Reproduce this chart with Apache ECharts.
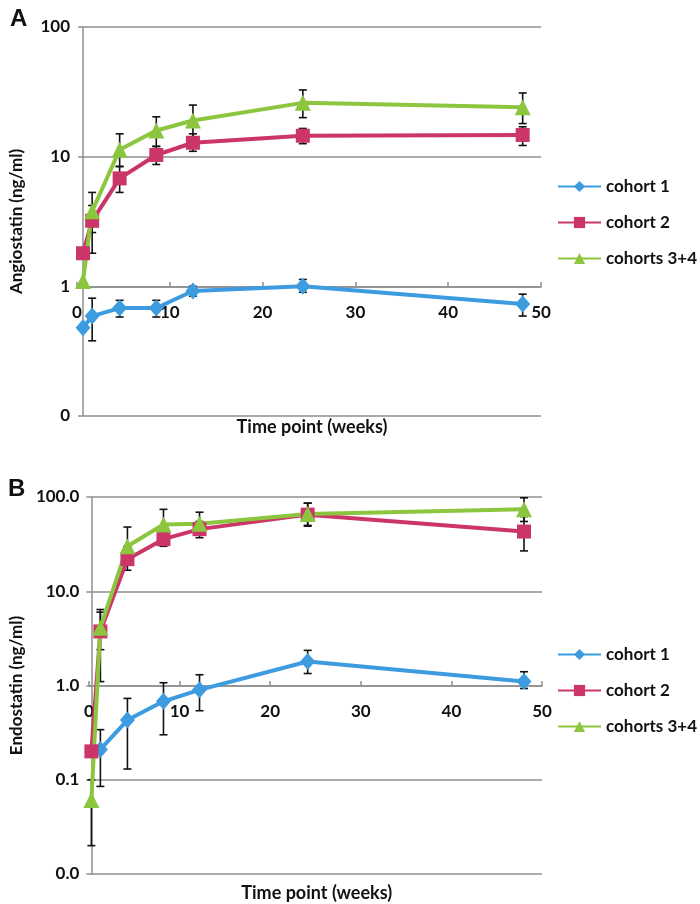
<!DOCTYPE html>
<html><head><meta charset="utf-8">
<script src="https://cdn.jsdelivr.net/npm/echarts@6/dist/echarts.min.js"></script>
<style>html,body{margin:0;padding:0;background:#fff}#c{width:700px;height:904px}</style>
</head><body><div id="c"></div>
<script>
const weeks = [0, 1, 4, 8, 12, 24, 48];
const seriesNames = ['cohort 1', 'cohort 2', 'cohorts 3+4'];
const xTicks = [0, 10, 20, 30, 40, 50];

// Panel A: Angiostatin (ng/ml)
const angC1   = [0.48, 0.59, 0.68, 0.68, 0.92, 1.0, 0.73];
const angC1Lo = [null, 0.38, 0.58, 0.58, 0.84, 0.9, 0.59];
const angC1Hi = [null, 0.81, 0.78, 0.78, 1.0, 1.13, 0.87];
const angC2   = [1.8, 3.2, 6.8, 10.3, 12.8, 14.5, 14.7];
const angC2Lo = [null, 2.6, 5.3, 8.7, 11, 12.6, 12.2];
const angC2Hi = [null, 4.2, 8.4, 12, 15, 16.5, 17];
const angC3   = [1.1, 3.8, 11.3, 15.9, 19, 26, 24];
const angC3Lo = [null, 1.8, 8.4, 12, 14, 20, 18];
const angC3Hi = [null, 5.3, 15, 20.3, 25, 32.7, 31];

// Panel B: Endostatin (ng/ml)
const endC1   = [null, 0.21, 0.43, 0.68, 0.9, 1.8, 1.1];
const endC1Lo = [null, 0.085, 0.13, 0.30, 0.54, 1.34, 0.93];
const endC1Hi = [null, 0.34, 0.73, 1.07, 1.3, 2.36, 1.4];
const endC2   = [0.2, 3.75, 21.9, 35.7, 45.6, 65, 43];
const endC2Lo = [null, 1.1, 16.7, 30, 37, 49, 26.8];
const endC2Hi = [null, 6, 30, 42, 55, 86, 62];
const endC3   = [0.061, 4.1, 30, 51, 52, 66, 74];
const endC3Lo = [0.02, 2.4, 22, 40, 40, 50, 55];
const endC3Hi = [0.1, 6.4, 48, 74, 69, 86, 98];

const colors = ['#3d9be0', '#cb3567', '#8cc63f'];
const symbols = ['diamond', 'rect', 'triangle'];
const symbolSizes = [[15, 17], 14, 16];
const FONT = 'Lato, "Open Sans", sans-serif';
const GRAY = '#8f8f8f';

function pts(vals) {
  const out = [];
  vals.forEach((v, i) => { if (v != null) out.push([weeks[i], v]); });
  return out;
}
function errPts(lo, hi) {
  const out = [];
  lo.forEach((v, i) => { if (v != null && hi[i] != null) out.push([weeks[i], v, hi[i]]); });
  return out;
}
function errSeries(lo, hi, xi, yi) {
  return {
    type: 'custom', xAxisIndex: xi, yAxisIndex: yi, z: 1, silent: true,
    encode: { x: 0, y: [1, 2] },
    data: errPts(lo, hi),
    renderItem: function (params, api) {
      const x = api.value(0);
      const a = api.coord([x, api.value(1)]);
      const b = api.coord([x, api.value(2)]);
      const w = 4;
      const st = { stroke: '#111', lineWidth: 1.6 };
      return { type: 'group', children: [
        { type: 'line', shape: { x1: a[0], y1: a[1], x2: b[0], y2: b[1] }, style: st },
        { type: 'line', shape: { x1: a[0] - w, y1: a[1], x2: a[0] + w, y2: a[1] }, style: st },
        { type: 'line', shape: { x1: b[0] - w, y1: b[1], x2: b[0] + w, y2: b[1] }, style: st }
      ]};
    }
  };
}
function lineSeries(k, vals, xi, yi) {
  return {
    name: seriesNames[k], type: 'line', xAxisIndex: xi, yAxisIndex: yi, z: 3,
    data: pts(vals), symbol: symbols[k], symbolSize: symbolSizes[k],
    lineStyle: { color: colors[k], width: 4 },
    itemStyle: { color: colors[k] }, animation: false
  };
}
function mainX(gi, gap) {
  return { type: 'value', gridIndex: gi, min: 0, max: 50, interval: 10,
    axisLine: { show: false }, axisTick: { show: false }, axisLabel: { show: false }, splitLine: { show: false },
    name: 'Time point (weeks)', nameLocation: 'middle', nameGap: gap,
    nameTextStyle: { fontFamily: FONT, fontWeight: 'bold', fontSize: 18, color: '#111' } };
}
function tickX(gi) {
  return { type: 'value', gridIndex: gi, min: 0, max: 50, interval: 10,
    axisLine: { show: true, lineStyle: { color: GRAY, width: 1.5 } },
    axisTick: { show: true, inside: true, length: 5, lineStyle: { color: GRAY, width: 1.5 } },
    axisLabel: { show: true, margin: 17, fontFamily: FONT, fontWeight: 'bold', fontSize: 17, color: '#111',
      formatter: v => xTicks.indexOf(v) >= 0 ? String(v) : '' },
    splitLine: { show: false } };
}
function mainY(gi, min, name, gap, fmt, margin) {
  return { type: 'log', logBase: 10, gridIndex: gi, min: min, max: 100,
    axisLine: { show: true, lineStyle: { color: GRAY, width: 1.5 } },
    axisTick: { show: true, length: 5, lineStyle: { color: GRAY, width: 1.5 } },
    axisLabel: { margin: margin, fontFamily: FONT, fontWeight: 'bold', fontSize: 17, color: '#111', formatter: fmt },
    splitLine: { show: true, lineStyle: { color: GRAY, width: 1.5 } },
    minorTick: { show: false },
    name: name, nameLocation: 'middle', nameGap: gap,
    nameTextStyle: { fontFamily: FONT, fontWeight: 'bold', fontSize: 17, color: '#111' } };
}
function hiddenY(gi, min) {
  return { type: 'log', logBase: 10, gridIndex: gi, min: min, max: 100, show: false };
}
function legend(top) {
  return { data: seriesNames, orient: 'vertical', left: 557, top: top, padding: 0,
    itemWidth: 43, itemHeight: 14, itemGap: 19,
    textStyle: { fontFamily: FONT, fontWeight: 'bold', fontSize: 17, color: '#111' } };
}

const chart = echarts.init(document.getElementById('c'), null, { renderer: 'canvas' });
chart.setOption({
  animation: false,
  backgroundColor: '#fff',
  title: [
    { text: 'A', left: 5, top: 2, textStyle: { fontFamily: 'Liberation Sans, Arial', fontWeight: 'bold', fontSize: 24, color: '#111' } },
    { text: 'B', left: 3, top: 472, textStyle: { fontFamily: 'Liberation Sans, Arial', fontWeight: 'bold', fontSize: 24, color: '#111' } }
  ],
  legend: [legend(178), legend(646)],
  grid: [
    { left: 77, top: 27, width: 464, height: 389 },
    { left: 77, top: 27, width: 464, height: 260 },
    { left: 89, top: 497, width: 453, height: 377 },
    { left: 89, top: 497, width: 453, height: 189 }
  ],
  xAxis: [mainX(0, 2), tickX(1), mainX(2, 10), tickX(3)],
  yAxis: [
    mainY(0, 0.1, 'Angiostatin (ng/ml)', 58, v => v >= 1 ? String(Math.round(v)) : '0', 13),
    hiddenY(1, 1),
    mainY(2, 0.01, 'Endostatin (ng/ml)', 62, v => v.toFixed(1), 12),
    hiddenY(3, 1)
  ],
  series: [
    errSeries(angC1Lo, angC1Hi, 0, 0),
    errSeries(angC2Lo, angC2Hi, 0, 0),
    errSeries(angC3Lo, angC3Hi, 0, 0),
    lineSeries(0, angC1, 0, 0),
    lineSeries(1, angC2, 0, 0),
    lineSeries(2, angC3, 0, 0),
    errSeries(endC1Lo, endC1Hi, 2, 2),
    errSeries(endC2Lo, endC2Hi, 2, 2),
    errSeries(endC3Lo, endC3Hi, 2, 2),
    lineSeries(0, endC1, 2, 2),
    lineSeries(1, endC2, 2, 2),
    lineSeries(2, endC3, 2, 2)
  ]
});
</script>
</body></html>
